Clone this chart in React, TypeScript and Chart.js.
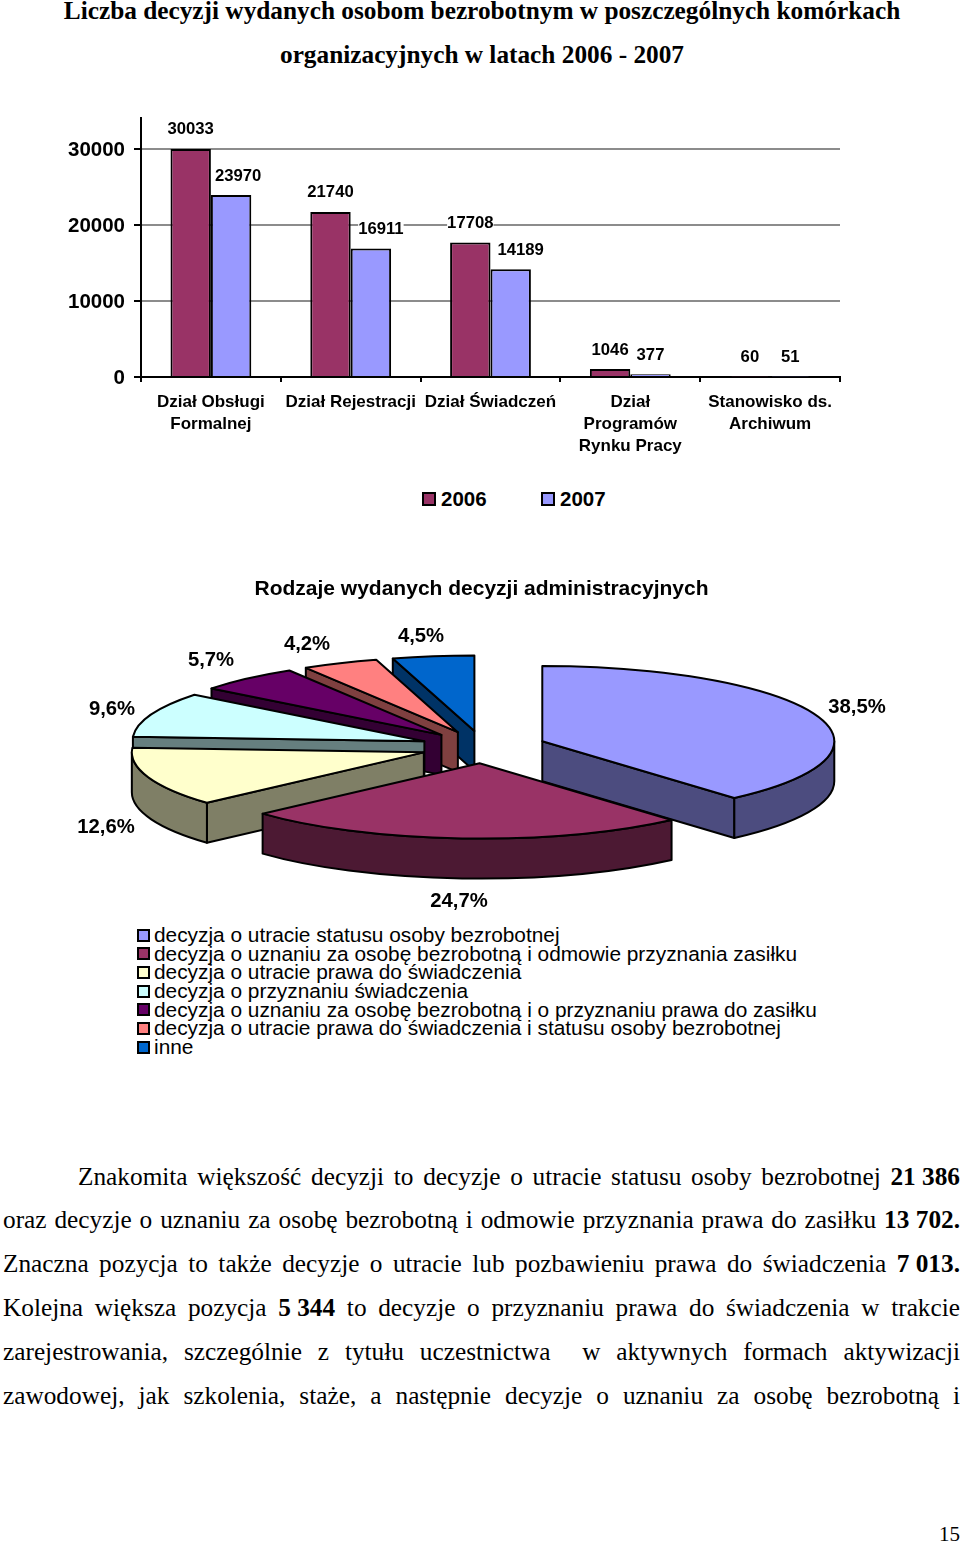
import React, { useEffect, useRef } from "react";
import { Chart, registerables } from "chart.js";

Chart.register(...registerables);

const SANS = '"Liberation Sans", Arial, sans-serif';
const SERIF = '"Liberation Serif", "Times New Roman", serif';

// ---- data: bar chart
const departments = [
  ["Dział Obsługi", "Formalnej"],
  ["Dział Rejestracji"],
  ["Dział Świadczeń"],
  ["Dział", "Programów", "Rynku Pracy"],
  ["Stanowisko ds.", "Archiwum"],
];
const values2006 = [30033, 21740, 17708, 1046, 60];
const values2007 = [23970, 16911, 14189, 377, 51];
const yearLabels = ["2006", "2007"];
const yearColors = ["#993366", "#9999FF"];
const yTicks = [0, 10000, 20000, 30000];

// ---- data: pie chart
const decisionTypes = [
  "decyzja o utracie statusu osoby bezrobotnej",
  "decyzja o uznaniu za osobę bezrobotną i odmowie przyznania zasiłku",
  "decyzja o utracie prawa do świadczenia",
  "decyzja o przyznaniu świadczenia",
  "decyzja o uznaniu za osobę bezrobotną i o przyznaniu prawa do zasiłku",
  "decyzja o utracie prawa do świadczenia i statusu osoby bezrobotnej",
  "inne",
];
const decisionShares = [38.5, 24.7, 12.6, 9.6, 5.7, 4.2, 4.5];
const sliceColors = ["#9999FF", "#993366", "#FFFFCC", "#CCFFFF", "#660066", "#FF8080", "#0066CC"];
const sliceSideColors = ["#4C4C7F", "#4C1933", "#7F7F66", "#667F7F", "#330033", "#7F4040", "#003366"];

// ---- layout (not data)
const BAR_LABEL_NUDGE_2007 = [7, 10, 10, 0, 0];
const PIE_TOP = 560;
const PIE_LABEL_CENTERS = [
  [857, 707], [459, 901], [106, 827], [112, 709], [211, 660], [307, 644], [421, 636],
];
const PIE_DRAW_ORDER = [6, 5, 4, 3, 2, 0, 1];
const PIE_RADIUS = 292;
const PIE_TILT = 0.258;
const PIE_DEPTH = 40;
const PIE_EXPLODE = 63;

const barValueLabels = {
  id: "barValueLabels",
  afterDatasetsDraw(chart: any) {
    const { ctx } = chart;
    ctx.save();
    ctx.font = `bold 16.7px ${SANS}`;
    ctx.textAlign = "center";
    ctx.textBaseline = "middle";
    chart.data.datasets.forEach((ds: any, d: number) => {
      chart.getDatasetMeta(d).data.forEach((bar: any, i: number) => {
        const nudge = d === 1 ? BAR_LABEL_NUDGE_2007[i] : 0;
        const text = String(ds.data[i]);
        const w = ctx.measureText(text).width;
        const x = bar.x + nudge;
        const y = bar.y - 19;
        ctx.fillStyle = "#fff";
        ctx.fillRect(x - w / 2, y - 6, w, 12);
        ctx.fillStyle = "#000";
        ctx.fillText(text, x, y);
      });
    });
    ctx.restore();
  },
};

const pie3d = {
  id: "pie3d",
  beforeDatasetDraw(chart: any, args: any) {
    const { ctx } = chart;
    const arcs = args.meta.data;
    const k = PIE_TILT;
    const d = PIE_DEPTH;
    ctx.save();
    ctx.lineWidth = 2;
    ctx.lineJoin = "round";
    ctx.strokeStyle = "#000";
    PIE_DRAW_ORDER.forEach((i) => {
      const a = arcs[i];
      const s = a.startAngle;
      const e = a.endAngle;
      const r = a.outerRadius;
      const mid = (s + e) / 2;
      const cx = a.x + PIE_EXPLODE * Math.cos(mid);
      const cy = a.y + PIE_EXPLODE * Math.sin(mid) * k;
      const shape = (draw: () => void, fill: string) => {
        ctx.beginPath();
        draw();
        ctx.closePath();
        ctx.fillStyle = fill;
        ctx.fill();
        ctx.stroke();
      };
      const radialWall = (t: number) =>
        shape(() => {
          const px = cx + r * Math.cos(t);
          const py = cy + r * Math.sin(t) * k;
          ctx.moveTo(cx, cy);
          ctx.lineTo(px, py);
          ctx.lineTo(px, py + d);
          ctx.lineTo(cx, cy + d);
        }, sliceSideColors[i]);
      if (-Math.cos(s) > 0.001) radialWall(s);
      if (Math.cos(e) > 0.001) radialWall(e);
      const a0 = Math.max(s, 0);
      const a1 = Math.min(e, Math.PI);
      if (a1 > a0) {
        shape(() => {
          ctx.ellipse(cx, cy, r, r * k, 0, a0, a1);
          ctx.ellipse(cx, cy + d, r, r * k, 0, a1, a0, true);
        }, sliceSideColors[i]);
      }
      shape(() => {
        ctx.moveTo(cx, cy);
        ctx.ellipse(cx, cy, r, r * k, 0, s, e);
      }, sliceColors[i]);
    });
    ctx.restore();
    return false;
  },
  afterDatasetsDraw(chart: any) {
    const { ctx } = chart;
    ctx.save();
    ctx.font = `bold 20.3px ${SANS}`;
    ctx.fillStyle = "#000";
    ctx.textAlign = "center";
    ctx.textBaseline = "middle";
    decisionShares.forEach((v, i) => {
      const [x, y] = PIE_LABEL_CENTERS[i];
      ctx.fillText(v.toFixed(1).replace(".", ",") + "%", x, y - PIE_TOP);
    });
    ctx.restore();
  },
};

const abs = (o: React.CSSProperties): React.CSSProperties => ({ position: "absolute", ...o });

const titleLines = [
  "Liczba decyzji wydanych osobom bezrobotnym w poszczególnych komórkach",
  "organizacyjnych w latach 2006 - 2007",
];
const pieTitle = "Rodzaje wydanych decyzji administracyjnych";

const bodyLines: { left: number; parts: (string | { b: string })[] }[] = [
  { left: 78, parts: ["Znakomita większość decyzji to decyzje o utracie statusu osoby bezrobotnej ", { b: "21 386" }] },
  { left: 3, parts: ["oraz decyzje o uznaniu za osobę bezrobotną i odmowie przyznania prawa do zasiłku ", { b: "13 702." }] },
  { left: 3, parts: ["Znaczna pozycja to także decyzje o utracie lub pozbawieniu prawa do świadczenia ", { b: "7 013." }] },
  { left: 3, parts: ["Kolejna większa pozycja ", { b: "5 344" }, " to decyzje o przyznaniu prawa do świadczenia w trakcie"] },
  { left: 3, parts: ["zarejestrowania, szczególnie z tytułu uczestnictwa  w aktywnych formach aktywizacji"] },
  { left: 3, parts: ["zawodowej, jak szkolenia, staże, a następnie decyzje o uznaniu za osobę bezrobotną i"] },
];
const bodyLineCenters = [1177, 1220, 1264, 1308, 1352, 1396];

export default function App() {
  const barRef = useRef<HTMLCanvasElement>(null);
  const pieRef = useRef<HTMLCanvasElement>(null);

  useEffect(() => {
    const bar = new Chart(barRef.current!, {
      type: "bar",
      data: {
        labels: departments,
        datasets: [
          { label: yearLabels[0], data: values2006, backgroundColor: yearColors[0], borderColor: "#000", borderWidth: 2 },
          { label: yearLabels[1], data: values2007, backgroundColor: yearColors[1], borderColor: "#000", borderWidth: 2 },
        ],
      },
      plugins: [barValueLabels],
      options: {
        responsive: false,
        animation: false,
        layout: { autoPadding: false, padding: { left: 0, right: 120, top: 118, bottom: 0 } },
        plugins: { legend: { display: false }, title: { display: false }, tooltip: { enabled: false } },
        datasets: { bar: { categoryPercentage: 0.578, barPercentage: 1 } },
        scales: {
          x: {
            afterFit: (s: any) => { s.height = 93; },
            grid: { offset: true, drawOnChartArea: false, color: "#000", tickColor: "#000", tickLength: 5, lineWidth: 2 },
            border: { color: "#000", width: 2 },
            ticks: {
              color: "#000", autoSkip: false, maxRotation: 0, minRotation: 0, padding: 9,
              font: { family: SANS, size: 17, weight: "bold", lineHeight: "22px" },
            },
          },
          y: {
            min: 0,
            max: 34100,
            afterFit: (s: any) => { s.width = 141; },
            afterBuildTicks: (s: any) => { s.ticks = yTicks.map((value) => ({ value })); },
            grid: { color: "#8C8C8C", tickColor: "#000", tickLength: 7, lineWidth: 2 },
            border: { color: "#000", width: 2 },
            ticks: {
              color: "#000", padding: 9, labelOffset: 1.5,
              callback: (v: any) => String(v),
              font: { family: SANS, size: 20.5, weight: "bold" },
            },
          },
        },
      } as any,
    });

    const pie = new Chart(pieRef.current!, {
      type: "pie",
      data: {
        labels: decisionTypes,
        datasets: [{ data: decisionShares, backgroundColor: sliceColors, borderWidth: 0 }],
      },
      plugins: [pie3d],
      options: {
        responsive: false,
        animation: false,
        radius: PIE_RADIUS,
        layout: { autoPadding: false, padding: { left: 6.6, right: 0, top: 14, bottom: 0 } },
        plugins: { legend: { display: false }, title: { display: false }, tooltip: { enabled: false } },
      } as any,
    });

    return () => {
      bar.destroy();
      pie.destroy();
    };
  }, []);

  return (
    <div style={abs({ left: 0, top: 0, width: 960, height: 1543, overflow: "hidden", background: "#fff", color: "#000" })}>
      {titleLines.map((t, i) => (
        <div key={i} style={abs({ left: 0, width: 964, top: [10, 54][i] - 15, height: 30, lineHeight: "30px", textAlign: "center", fontFamily: SERIF, fontWeight: "bold", fontSize: 25.3, whiteSpace: "nowrap" })}>{t}</div>
      ))}

      <canvas ref={barRef} width={960} height={470} style={abs({ left: 0, top: 0, width: 960, height: 470 })} />

      {yearLabels.map((y, i) => (
        <React.Fragment key={y}>
          <div style={abs({ left: [422, 541][i], top: 492, width: 14, height: 14, boxSizing: "border-box", border: "2px solid #000", background: yearColors[i] })} />
          <div style={abs({ left: [441, 560][i], top: 485, height: 28, lineHeight: "28px", fontFamily: SANS, fontWeight: "bold", fontSize: 20.5 })}>{y}</div>
        </React.Fragment>
      ))}

      <canvas ref={pieRef} width={960} height={360} style={abs({ left: 0, top: PIE_TOP, width: 960, height: 360 })} />

      <div style={abs({ left: 0, width: 963, top: 573, height: 30, lineHeight: "30px", textAlign: "center", fontFamily: SANS, fontWeight: "bold", fontSize: 21, whiteSpace: "nowrap" })}>{pieTitle}</div>

      {decisionTypes.map((t, i) => (
        <React.Fragment key={t}>
          <div style={abs({ left: 137, top: 935 + i * 18.67 - 6.5, width: 13, height: 13, boxSizing: "border-box", border: "2px solid #000", background: sliceColors[i] })} />
          <div style={abs({ left: 154, top: 935 + i * 18.67 - 12, height: 24, lineHeight: "24px", fontFamily: SANS, fontSize: 20.85, whiteSpace: "nowrap" })}>{t}</div>
        </React.Fragment>
      ))}

      {bodyLines.map((l, i) => (
        <div key={i} style={abs({ left: l.left, width: 957 - (l.left - 3), top: bodyLineCenters[i] - 17, height: 32, lineHeight: "32px", fontFamily: SERIF, fontSize: 25.3, textAlign: "justify", textAlignLast: "justify", whiteSpace: "pre-wrap" })}>
          {l.parts.map((p, j) => (typeof p === "string" ? <span key={j}>{p}</span> : <b key={j} style={{ display: "inline-block" }}>{p.b}</b>))}
        </div>
      ))}

      <div style={abs({ left: 939, top: 1522, height: 24, lineHeight: "24px", fontFamily: SERIF, fontSize: 21 })}>15</div>
    </div>
  );
}
